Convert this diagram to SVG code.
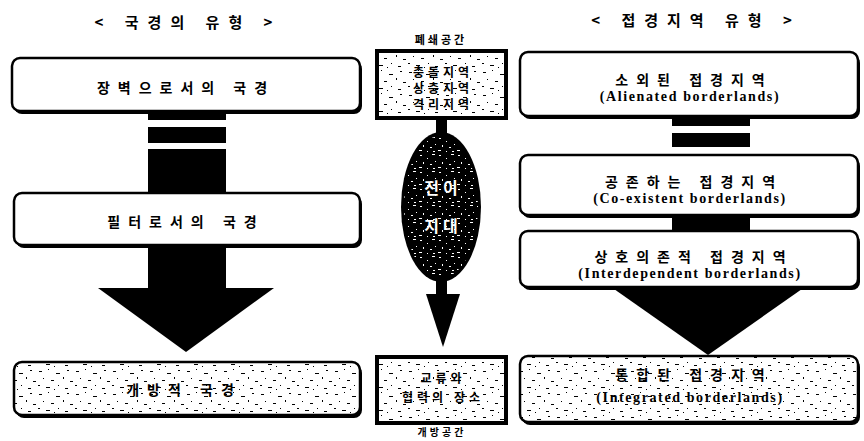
<svg xmlns="http://www.w3.org/2000/svg" width="864" height="441" viewBox="0 0 864 441">
<defs>
<style>
.box{fill:#fff;stroke:#000;stroke-width:2.5}
.nbox{fill:url(#noise);stroke:#000;stroke-width:2.5}
.sq{fill:#fff;stroke:#000;stroke-width:4}
.sqn{fill:url(#noise);stroke:#000;stroke-width:4}
.sh{fill:#000}
.ko{font-family:"Noto Sans CJK KR","Noto Sans",sans-serif;font-weight:bold;text-anchor:middle;fill:#000}
.en{font-family:"Liberation Serif",serif;font-weight:bold;text-anchor:middle;fill:#000}
.t{font-size:15px;letter-spacing:9px}
.b{font-size:14px;letter-spacing:8px}
.s{font-size:12px;letter-spacing:4px}
.e{font-size:14px;letter-spacing:1.6px}
.blk{fill:#000}
</style>
<pattern id="noise" x="0" y="0" width="37" height="23" patternUnits="userSpaceOnUse">
<rect width="37" height="23" fill="#fff"/>
<rect x="2" y="3" width="3" height="1" fill="#000"/>
<rect x="11" y="1" width="1" height="1" fill="#000"/>
<rect x="19" y="5" width="4" height="1" fill="#000"/>
<rect x="30" y="2" width="2" height="1" fill="#000"/>
<rect x="6" y="10" width="1" height="1" fill="#000"/>
<rect x="14" y="12" width="3" height="1" fill="#000"/>
<rect x="26" y="9" width="1" height="2" fill="#000"/>
<rect x="33" y="13" width="3" height="1" fill="#000"/>
<rect x="1" y="17" width="2" height="1" fill="#000"/>
<rect x="9" y="19" width="4" height="1" fill="#000"/>
<rect x="21" y="17" width="1" height="1" fill="#000"/>
<rect x="28" y="20" width="3" height="1" fill="#000"/>
<rect x="17" y="21" width="1" height="1" fill="#000"/>
</pattern>
<pattern id="speck" x="0" y="0" width="19" height="17" patternUnits="userSpaceOnUse">
<rect x="2" y="2" width="2" height="1" fill="#fff"/>
<rect x="9" y="5" width="1" height="1" fill="#fff"/>
<rect x="14" y="1" width="3" height="1" fill="#fff"/>
<rect x="5" y="9" width="1" height="2" fill="#fff"/>
<rect x="12" y="11" width="2" height="1" fill="#fff"/>
<rect x="17" y="8" width="1" height="1" fill="#fff"/>
<rect x="1" y="14" width="3" height="1" fill="#fff"/>
<rect x="9" y="15" width="1" height="1" fill="#fff"/>
<rect x="15" y="15" width="2" height="1" fill="#fff"/>
</pattern>
</defs>
<rect width="864" height="441" fill="#fff"/>

<g id="titles">
<text class="ko t" x="188" y="28">&lt; 국경의 유형 &gt;</text>
<text class="ko t" x="696" y="26">&lt; 접경지역 유형 &gt;</text>
<text class="ko" x="441" y="44" style="font-size:11px;letter-spacing:3px">폐쇄공간</text>
<text class="ko" x="442" y="436" style="font-size:10px;letter-spacing:3px">개방공간</text>
</g>

<g id="connectors">
<rect class="blk" x="148" y="111" width="78" height="9"/>
<rect class="blk" x="148" y="127" width="78" height="16"/>
<rect class="blk" x="148" y="149" width="78" height="140"/>
<polygon class="blk" points="98,288 274,288 186,352"/>
<rect class="blk" x="436" y="118" width="11" height="16"/>
<ellipse class="blk" cx="441" cy="207" rx="40" ry="75"/>
<ellipse cx="441" cy="207" rx="37" ry="71" fill="url(#speck)"/>
<text class="ko" x="443" y="194" style="font-size:16px;letter-spacing:4px;fill:#fff">전이</text>
<text class="ko" x="443" y="232" style="font-size:16px;letter-spacing:4px;fill:#fff">지대</text>
<rect class="blk" x="436" y="280" width="11" height="16"/>
<polygon class="blk" points="426,294 460,294 443,347"/>
<rect class="blk" x="672" y="117" width="78" height="9"/>
<rect class="blk" x="672" y="133" width="78" height="14"/>
<rect class="blk" x="672" y="212" width="78" height="22"/>
<rect class="blk" x="672" y="286" width="78" height="6"/>
<polygon class="blk" points="614,289 802,289 708,355"/>
</g>

<g id="barrier">
<rect class="sh" x="14" y="61" width="348" height="53" rx="8"/>
<rect class="box" x="12" y="58" width="348" height="53" rx="8"/>
<text class="ko b" x="186" y="93">장벽으로서의 국경</text>
</g>
<g id="filter">
<rect class="sh" x="16" y="196" width="346" height="52" rx="8"/>
<rect class="box" x="14" y="193" width="346" height="52" rx="8"/>
<text class="ko b" x="186" y="227">필터로서의 국경</text>
</g>
<g id="open">
<rect class="sh" x="16" y="365" width="346" height="53" rx="8"/>
<rect class="nbox" x="14" y="362" width="346" height="53" rx="8"/>
<text class="ko b" x="184" y="395">개방적 국경</text>
</g>

<g id="closed-space">
<rect class="sqn" x="377" y="51" width="129" height="67"/>
<text class="ko s" x="443" y="77">충돌지역</text>
<text class="ko s" x="443" y="93">상충지역</text>
<text class="ko s" x="443" y="109">격리지역</text>
</g>
<g id="open-space">
<rect class="sqn" x="377" y="357" width="129" height="66"/>
<text class="ko s" x="443" y="383">교류와</text>
<text class="ko s" x="443" y="402">협력의 장소</text>
</g>

<g id="alienated">
<rect class="sh" x="522" y="55" width="338" height="64" rx="8"/>
<rect class="box" x="520" y="52" width="338" height="64" rx="8"/>
<text class="ko b" x="694" y="85">소외된 접경지역</text>
<text class="en e" x="690" y="101">(Alienated borderlands)</text>
</g>
<g id="coexistent">
<rect class="sh" x="522" y="158" width="338" height="60" rx="8"/>
<rect class="box" x="520" y="155" width="338" height="60" rx="8"/>
<text class="ko b" x="694" y="187">공존하는 접경지역</text>
<text class="en e" x="690" y="203">(Co-existent borderlands)</text>
</g>
<g id="interdependent">
<rect class="sh" x="522" y="234" width="338" height="56" rx="8"/>
<rect class="box" x="520" y="231" width="338" height="56" rx="8"/>
<text class="ko b" x="694" y="262">상호의존적 접경지역</text>
<text class="en e" x="690" y="278">(Interdependent borderlands)</text>
</g>
<g id="integrated">
<rect class="sh" x="522" y="359" width="338" height="66" rx="8"/>
<rect class="nbox" x="520" y="356" width="338" height="66" rx="8"/>
<text class="ko b" x="694" y="380">통합된 접경지역</text>
<text class="en e" x="690" y="402">(Integrated borderlands)</text>
</g>
</svg>
